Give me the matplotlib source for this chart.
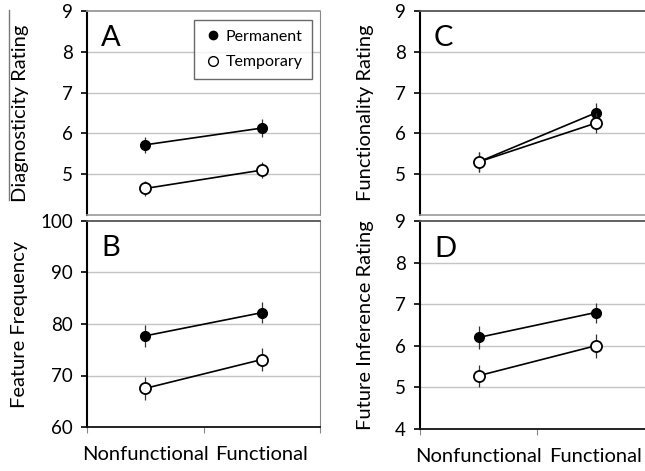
from matplotlib import pyplot as plt
from matplotlib.lines import Line2D
import numpy as np

plt.rcParams['font.family'] = ['Lato', 'DejaVu Sans']

# data
conds = ['Nonfunctional', 'Functional']
xpos = [0.5, 1.5]

A_perm = [5.72, 6.13]; A_perm_err = [0.2, 0.22]
A_temp = [4.65, 5.10]; A_temp_err = [0.18, 0.2]
B_perm = [77.7, 82.2]; B_perm_err = [2.2, 2.0]
B_temp = [67.5, 73.1]; B_temp_err = [2.3, 2.3]
C_perm = [5.30, 6.50]; C_perm_err = [0.25, 0.24]
C_temp = [5.30, 6.25]; C_temp_err = [0.25, 0.24]
D_perm = [6.20, 6.80]; D_perm_err = [0.28, 0.24]
D_temp = [5.28, 6.00]; D_temp_err = [0.27, 0.29]

panels = [
    ('A', 'Diagnosticity Rating', (4, 9), [5, 6, 7, 8, 9], A_perm, A_perm_err, A_temp, A_temp_err),
    ('B', 'Feature Frequency', (60, 100), [60, 70, 80, 90, 100], B_perm, B_perm_err, B_temp, B_temp_err),
    ('C', 'Functionality Rating', (4, 9), [5, 6, 7, 8, 9], C_perm, C_perm_err, C_temp, C_temp_err),
    ('D', 'Future Inference Rating', (4, 9), [4, 5, 6, 7, 8, 9], D_perm, D_perm_err, D_temp, D_temp_err),
]

W, H = 645, 471
fig = plt.figure(figsize=(W/100, H/100), dpi=100)

rects = {
    'A': (87, 11, 233, 204),
    'B': (87, 221, 233, 206),
    'C': (420, 11, 234, 204),
    'D': (420, 221, 234, 208),
}
ylabx = {'A': 21, 'B': 20, 'C': 366, 'D': 365}

for letter, ylab, ylim, yticks, perm, perr, temp, terr in panels:
    x0, y0, w, h = rects[letter]
    ax = fig.add_axes([x0/W, 1-(y0+h)/H, w/W, h/H])
    ax.set_xlim(0, 2)
    ax.set_ylim(*ylim)
    ax.set_yticks(yticks)
    ax.tick_params(axis='y', direction='out', length=4, labelsize=13.5, pad=6, width=1.2)
    ax.set_xticks([0, 1, 2])
    ax.set_xticklabels([])
    ax.set_xticks(xpos, minor=True)
    top = letter in ('B', 'D')
    if top:
        ax.set_xticklabels(conds, minor=True, fontsize=14.5)
        ax.tick_params(axis='x', which='minor', length=0, pad=14)
        ax.tick_params(axis='x', which='major', direction='out', length=4, color='#888888')
    else:
        ax.tick_params(axis='x', which='both', length=0)
    for v in yticks:
        if v != ylim[0] and v != ylim[1]:
            ax.axhline(v, color='#c4c4c4', lw=1, zorder=0)
    ax.spines['left'].set_linewidth(1.5)
    ax.spines['top'].set_color('#555555' if letter in ('B', 'C', 'D') else '#999999')
    ax.spines['top'].set_linewidth(1.3)
    ax.spines['right'].set_color('#888888')
    if letter in ('C', 'D'):
        ax.spines['right'].set_visible(False)
    ax.spines['bottom'].set_color('#111111' if top else '#999999')
    ax.spines['bottom'].set_linewidth(1.3 if top else 1.2)

    ax.errorbar(xpos, perm, yerr=perr, color='black', lw=1.2, elinewidth=0.9,
                ecolor='#333333', capsize=0, marker='o', ms=7, mfc='black',
                mec='black', zorder=3, label='Permanent')
    ax.errorbar(xpos, temp, yerr=terr, color='black', lw=1.2, elinewidth=0.9,
                ecolor='#333333', capsize=0, marker='o', ms=8, mfc='white',
                mec='black', mew=1.3, zorder=4, label='Temporary')

    ax.text(0.06, 0.93, letter, transform=ax.transAxes, fontsize=21,
            va='top', ha='left')
    fig.text(ylabx[letter]/W, 1-(y0+h/2)/H, ylab, rotation=90, fontsize=14.5,
             ha='center', va='center')

    if letter == 'A':
        handles = [Line2D([], [], marker='o', ls='', color='black', ms=6),
                   Line2D([], [], marker='o', ls='', mfc='white', mec='black', ms=7)]
        leg = ax.legend(handles, ['Permanent', 'Temporary'], loc='upper right',
                        bbox_to_anchor=(0.966, 0.956), fontsize=11.5, frameon=True,
                        fancybox=False, edgecolor='#444444', handletextpad=0.2,
                        labelspacing=0.7, borderpad=0.6, borderaxespad=0,
                        handlelength=1.2)
        leg.get_frame().set_linewidth(1.0)

# thin line left of the first y label
fig.add_artist(Line2D([9/W, 9/W], [1-10/H, 1-200/H], color='#777777', lw=1))

fig.savefig('out.png', dpi=100)
